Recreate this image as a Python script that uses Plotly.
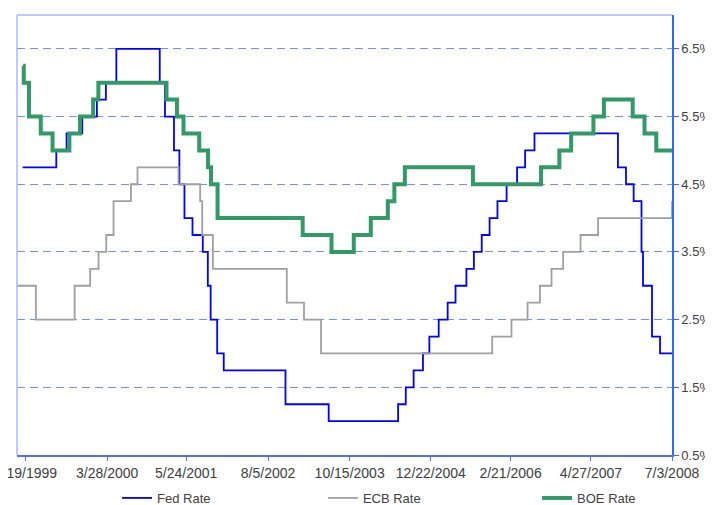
import plotly.graph_objects as go

# ---- data (step change dates and rates, %) ----
fed_dates = ["1999-01-01", "1999-06-30", "1999-08-24", "1999-11-16", "2000-02-02", "2000-03-21",
             "2000-05-16", "2001-01-03", "2001-01-31", "2001-03-20", "2001-04-18", "2001-05-15",
             "2001-06-27", "2001-08-21", "2001-09-17", "2001-10-02", "2001-11-06", "2001-12-11",
             "2002-11-06", "2003-06-25", "2004-06-30", "2004-08-10", "2004-09-21", "2004-11-10",
             "2004-12-14", "2005-02-02", "2005-03-22", "2005-05-03", "2005-06-30", "2005-08-09",
             "2005-09-20", "2005-11-01", "2005-12-13", "2006-01-31", "2006-03-28", "2006-05-10",
             "2006-06-29", "2007-09-18", "2007-10-31", "2007-12-11", "2008-01-22", "2008-01-30",
             "2008-03-18", "2008-04-30", "2008-07-03"]
fed_rates = [4.75, 5.0, 5.25, 5.5, 5.75, 6.0, 6.5, 6.0, 5.5, 5.0, 4.5, 4.0, 3.75, 3.5, 3.0, 2.5,
             2.0, 1.75, 1.25, 1.0, 1.25, 1.5, 1.75, 2.0, 2.25, 2.5, 2.75, 3.0, 3.25, 3.5, 3.75, 4.0,
             4.25, 4.5, 4.75, 5.0, 5.25, 4.75, 4.5, 4.25, 3.5, 3.0, 2.25, 2.0, 2.0]

ecb_dates = ["1998-12-02", "1999-03-13", "1999-10-06", "1999-12-28", "2000-02-11", "2000-03-23",
             "2000-05-01", "2000-08-02", "2000-09-06", "2001-04-13", "2001-08-07", "2001-08-18",
             "2001-10-14", "2002-11-13", "2003-02-13", "2003-05-15", "2005-11-15", "2006-02-26",
             "2006-05-23", "2006-07-28", "2006-09-28", "2006-11-29", "2007-03-02", "2007-06-04",
             "2008-07-02", "2008-07-03"]
ecb_rates = [3.0, 2.5, 3.0, 3.25, 3.5, 3.75, 4.25, 4.5, 4.75, 4.5, 4.25, 3.75, 3.25, 2.75, 2.5,
             2.0, 2.25, 2.5, 2.75, 3.0, 3.25, 3.5, 3.75, 4.0, 4.0, 4.25]

boe_dates = ["1999-01-04", "1999-01-07", "1999-02-04", "1999-04-08", "1999-06-10", "1999-09-08",
             "1999-11-04", "2000-01-13", "2000-02-10", "2001-02-08", "2001-04-05", "2001-05-10",
             "2001-08-02", "2001-09-18", "2001-10-04", "2001-11-08", "2003-02-06", "2003-07-10",
             "2003-11-06", "2004-02-05", "2004-05-06", "2004-06-10", "2004-08-05", "2005-08-04",
             "2006-08-03", "2006-11-09", "2007-01-11", "2007-05-10", "2007-07-05", "2007-12-06",
             "2008-02-07", "2008-04-10", "2008-07-03"]
boe_rates = [6.25, 6.0, 5.5, 5.25, 5.0, 5.25, 5.5, 5.75, 6.0, 5.75, 5.5, 5.25, 5.0, 4.75, 4.5,
             4.0, 3.75, 3.5, 3.75, 4.0, 4.25, 4.5, 4.75, 4.5, 4.75, 5.0, 5.25, 5.5, 5.75, 5.5,
             5.25, 5.0, 5.0]

x_tick_vals = ["1999-01-19", "2000-03-28", "2001-05-24", "2002-08-05", "2003-10-15",
               "2004-12-22", "2006-02-21", "2007-04-27", "2008-07-03"]
x_tick_text = ["1/19/1999", "3/28/2000", "5/24/2001", "8/5/2002", "10/15/2003",
               "12/22/2004", "2/21/2006", "4/27/2007", "7/3/2008"]
y_tick_vals = [0.5, 1.5, 2.5, 3.5, 4.5, 5.5, 6.5]
y_tick_text = ["0.5%", "1.5%", "2.5%", "3.5%", "4.5%", "5.5%", "6.5%"]

FONT = "Liberation Sans, Arial, sans-serif"
TXT = "#404040"

fig = go.Figure()
fig.add_trace(go.Scatter(x=fed_dates, y=fed_rates, name="Fed Rate", mode="lines",
                         legend="legend",
                         line=dict(color="#0000FF", width=1.8, shape="hv")))
fig.add_trace(go.Scatter(x=ecb_dates, y=ecb_rates, name="ECB Rate", mode="lines",
                         legend="legend2",
                         line=dict(color="#A0A0A0", width=1.8, shape="hv")))
fig.add_trace(go.Scatter(x=boe_dates, y=boe_rates, name="BOE Rate", mode="lines",
                         legend="legend3",
                         line=dict(color="#339966", width=4, shape="hv")))

LEG_Y = -0.0977


def leg(x):
    return dict(orientation="h", x=x, xanchor="left", y=LEG_Y, yanchor="middle",
                bgcolor="rgba(0,0,0,0)", borderwidth=0,
                font=dict(family=FONT, size=13, color=TXT))


# page has an 8px body margin: figure is sized so the plot area lands at x 17..672, y 15..455
fig.update_layout(
    width=705, height=520,
    margin=dict(l=9, r=41, t=7, b=73),
    paper_bgcolor="white", plot_bgcolor="white",
    font=dict(family=FONT, size=13, color=TXT),
    showlegend=True,
    legend=leg(0.1527),
    legend2=leg(0.467),
    legend3=leg(0.794),
    xaxis=dict(type="date", range=["1998-12-02", "2008-07-03"],
               tickvals=x_tick_vals, ticktext=x_tick_text,
               tickfont=dict(family=FONT, size=14, color=TXT),
               ticklabeloverflow="allow",
               showgrid=False, zeroline=False,
               showline=True, linecolor="#4f6fff", linewidth=1.5,
               ticks="outside", ticklen=4, tickcolor="#4f6fff", tickwidth=1,
               automargin=False),
    yaxis=dict(range=[0.5, 7.0], side="right",
               tickvals=y_tick_vals, ticktext=y_tick_text,
               tickfont=dict(family=FONT, size=13, color=TXT),
               ticklabeloverflow="allow",
               showgrid=True, gridcolor="#7090ff", gridwidth=1, griddash="8px,5px",
               zeroline=False,
               showline=True, linecolor="#3366ff", linewidth=1.5,
               ticks="outside", ticklen=5, tickcolor="#3366ff", tickwidth=1,
               automargin=False),
    shapes=[
        dict(type="line", xref="paper", yref="paper", x0=0, x1=1, y0=1, y1=1,
             line=dict(color="#a8b8ff", width=1.5)),
        dict(type="line", xref="paper", yref="paper", x0=0, x1=0, y0=0, y1=1,
             line=dict(color="#a8b8ff", width=1.5)),
    ],
)

fig.write_html("out.html")
